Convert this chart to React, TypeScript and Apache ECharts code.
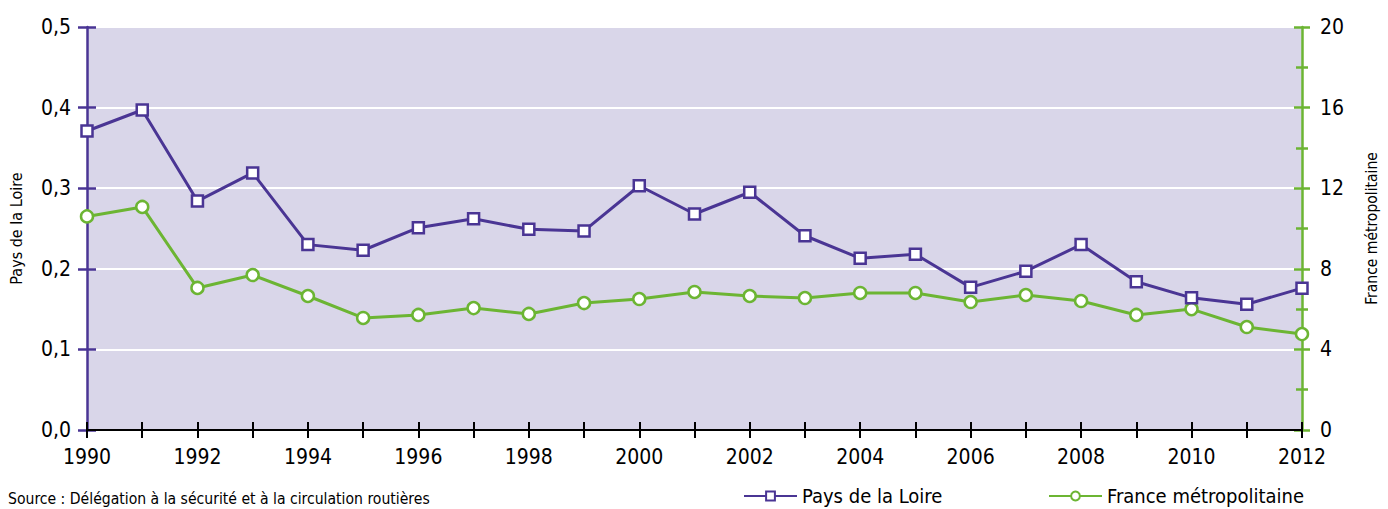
import React, { useEffect, useRef } from "react";
import * as echarts from "echarts";

const years = ["1990","1991","1992","1993","1994","1995","1996","1997","1998","1999","2000","2001","2002","2003","2004","2005","2006","2007","2008","2009","2010","2011","2012"];
const paysDeLaLoire = [0.371,0.397,0.284,0.319,0.230,0.223,0.251,0.262,0.249,0.247,0.303,0.268,0.295,0.241,0.213,0.218,0.177,0.197,0.230,0.184,0.164,0.156,0.176];
const franceMetro = [10.6,11.07,7.05,7.69,6.65,5.56,5.71,6.05,5.76,6.30,6.50,6.85,6.65,6.55,6.80,6.80,6.35,6.70,6.40,5.71,6.00,5.11,4.76];
const sourceText = "Source : Délégation à la sécurité et à la circulation routières";

const PURPLE = "#4a3594";
const GREEN = "#6cb533";
const FONT = "'Liberation Sans Narrow', 'DejaVu Sans Condensed', 'Roboto Condensed', sans-serif";

export default function App() {
  const ref = useRef<HTMLDivElement>(null);
  useEffect(() => {
    const chart = echarts.init(ref.current!, null, { renderer: "svg" });
    const grid = { left: 87, right: 86, top: 27, bottom: 79, show: true, backgroundColor: "#d9d6e9", borderWidth: 0 };
    chart.setOption({
      animation: false,
      textStyle: { fontFamily: FONT },
      grid,
      xAxis: [
        {
          type: "category", data: years, boundaryGap: false,
          axisLine: { lineStyle: { color: "#000", width: 2 } },
          axisTick: { show: true, interval: 0, length: 8, lineStyle: { color: "#000", width: 2 } },
          axisLabel: { interval: 1, color: "#000", fontSize: 21, margin: 16, fontFamily: FONT },
          splitLine: { show: false }, z: 5,
        },
        {
          type: "category", data: years, boundaryGap: false, position: "bottom",
          axisLine: { show: false },
          axisTick: { show: true, inside: true, interval: 0, length: 8, lineStyle: { color: "#000", width: 2 } },
          axisLabel: { show: false }, splitLine: { show: false }, z: 5,
        },
      ],
      yAxis: [
        {
          type: "value", min: 0, max: 0.5, interval: 0.1, position: "left",
          name: "Pays de la Loire", nameLocation: "middle", nameGap: 63, nameRotate: 90,
          nameTextStyle: { color: "#000", fontSize: 16, fontFamily: FONT },
          axisLine: { show: true, lineStyle: { color: PURPLE, width: 2.5 } },
          axisTick: { show: true, length: 9, lineStyle: { color: PURPLE, width: 2.5 } },
          axisLabel: { color: "#000", fontSize: 21, margin: 16, fontFamily: FONT, formatter: (v: number) => v.toFixed(1).replace(".", ",") },
          splitLine: { show: true, lineStyle: { color: "#ffffff", width: 2 } },
        },
        {
          type: "value", min: 0, max: 0.5, interval: 0.1, position: "left",
          axisLine: { show: false },
          axisTick: { show: true, inside: true, length: 9, lineStyle: { color: PURPLE, width: 2.5 } },
          axisLabel: { show: false }, splitLine: { show: false },
        },
        {
          type: "value", min: 0, max: 20, interval: 4, position: "right",
          name: "France métropolitaine", nameLocation: "middle", nameGap: 62, nameRotate: 90,
          nameTextStyle: { color: "#000", fontSize: 15.5, fontFamily: FONT },
          axisLine: { show: true, lineStyle: { color: GREEN, width: 2.5 } },
          axisTick: { show: true, length: 8, lineStyle: { color: GREEN, width: 2.5 } },
          minorTick: { show: true, splitNumber: 2, length: 6, lineStyle: { color: GREEN, width: 2.5 } },
          axisLabel: { color: "#000", fontSize: 21, margin: 18, fontFamily: FONT },
          splitLine: { show: false },
        },
        {
          type: "value", min: 0, max: 20, interval: 4, position: "right",
          axisLine: { show: false },
          axisTick: { show: true, inside: true, length: 8, lineStyle: { color: GREEN, width: 2.5 } },
          minorTick: { show: true, splitNumber: 2, length: 6, lineStyle: { color: GREEN, width: 2.5 } },
          axisLabel: { show: false }, splitLine: { show: false },
        },
      ],
      legend: [
        {
          data: ["Pays de la Loire"], left: 738, top: 481, itemWidth: 53, itemHeight: 11, itemGap: 0,
          textStyle: { color: "#000", fontSize: 20, fontFamily: FONT },
        },
        {
          data: ["France métropolitaine"], left: 1043, top: 481, itemWidth: 53, itemHeight: 11, itemGap: 0,
          textStyle: { color: "#000", fontSize: 20, fontFamily: FONT },
        },
      ],
      graphic: [
        {
          type: "text", left: 8, top: 491,
          style: { text: sourceText, fill: "#000", font: `15.6px ${FONT}` },
        },
      ],
      series: [
        {
          name: "Pays de la Loire", type: "line", data: paysDeLaLoire, yAxisIndex: 0,
          symbol: "rect", symbolSize: 11,
          lineStyle: { color: PURPLE, width: 3 },
          itemStyle: { color: "#ffffff", borderColor: PURPLE, borderWidth: 2.5 },
          z: 3,
        },
        {
          name: "France métropolitaine", type: "line", data: franceMetro, yAxisIndex: 2,
          symbol: "circle", symbolSize: 12,
          lineStyle: { color: GREEN, width: 3 },
          itemStyle: { color: "#ffffff", borderColor: GREEN, borderWidth: 2.5 },
          z: 2,
        },
      ],
    });
    return () => chart.dispose();
  }, []);
  return <div ref={ref} style={{ position: "absolute", left: 0, top: 0, width: 1388, height: 509 }} />;
}
